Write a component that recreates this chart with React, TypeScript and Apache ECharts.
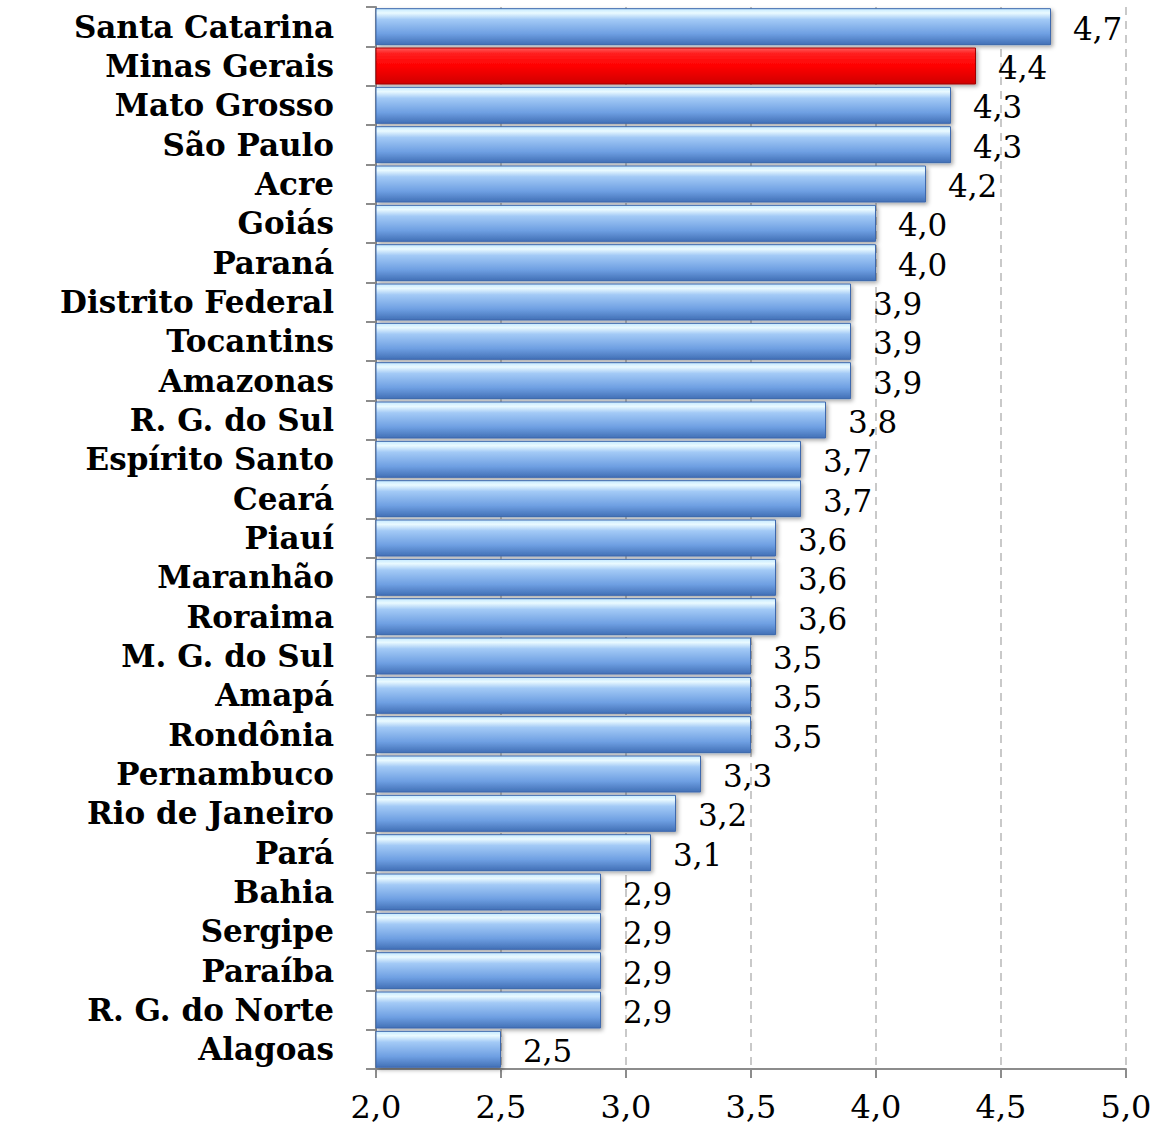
import React, { useEffect, useRef } from "react";
import * as echarts from "echarts";

const states = [
  "Santa Catarina", "Minas Gerais", "Mato Grosso", "São Paulo", "Acre", "Goiás", "Paraná",
  "Distrito Federal", "Tocantins", "Amazonas", "R. G. do Sul", "Espírito Santo", "Ceará",
  "Piauí", "Maranhão", "Roraima", "M. G. do Sul", "Amapá", "Rondônia", "Pernambuco",
  "Rio de Janeiro", "Pará", "Bahia", "Sergipe", "Paraíba", "R. G. do Norte", "Alagoas",
];
const values = [
  4.7, 4.4, 4.3, 4.3, 4.2, 4.0, 4.0, 3.9, 3.9, 3.9, 3.8, 3.7, 3.7, 3.6, 3.6, 3.6, 3.5, 3.5,
  3.5, 3.3, 3.2, 3.1, 2.9, 2.9, 2.9, 2.9, 2.5,
];
const highlighted = ["Minas Gerais"];

const fmt = (v: number) => v.toFixed(1).replace(".", ",");

export default function App() {
  const ref = useRef<HTMLDivElement>(null);
  useEffect(() => {
    if (!ref.current) return;
    const chart = echarts.init(ref.current, undefined, { renderer: "svg" });
    const blue = new echarts.graphic.LinearGradient(0, 0, 0, 1, [
      { offset: 0, color: "#c4e9ff" },
      { offset: 0.12, color: "#eafaff" },
      { offset: 0.3, color: "#a3caf6" },
      { offset: 0.7, color: "#6e9fe2" },
      { offset: 1, color: "#4270b6" },
    ]);
    const red = new echarts.graphic.LinearGradient(0, 0, 0, 1, [
      { offset: 0, color: "#ff5a5a" },
      { offset: 0.15, color: "#ff2020" },
      { offset: 0.5, color: "#ff0000" },
      { offset: 1, color: "#d00000" },
    ]);
    chart.setOption({
      animation: false,
      grid: { left: 376, right: 36, top: 7, bottom: 57, containLabel: false },
      xAxis: {
        type: "value",
        min: 2,
        max: 5,
        interval: 0.5,
        axisLine: { show: true, lineStyle: { color: "#8c8c8c", width: 2 } },
        axisTick: { show: true, length: 9, lineStyle: { color: "#8c8c8c", width: 2 } },
        splitLine: { show: true, lineStyle: { color: "#b8b8b8", type: [8, 6], width: 1.5 } },
        axisLabel: {
          margin: 22,
          color: "#000",
          fontFamily: "DejaVu Serif",
          fontSize: 32,
          formatter: (v: number) => fmt(v),
        },
      },
      yAxis: {
        type: "category",
        inverse: true,
        data: states,
        axisLine: { show: true, lineStyle: { color: "#8c8c8c", width: 2 } },
        axisTick: { show: true, length: 10, lineStyle: { color: "#8c8c8c", width: 2 } },
        axisLabel: {
          interval: 0,
          margin: 42,
          color: "#000",
          fontFamily: "DejaVu Serif",
          fontWeight: "bold",
          fontSize: 31,
          lineHeight: 34,
        },
      },
      series: [
        {
          type: "bar",
          barCategoryGap: "6%",
          data: values.map((v, i) => ({
            value: v,
            itemStyle: highlighted.includes(states[i])
              ? { color: red, borderColor: "#a00000", borderWidth: 1 }
              : { color: blue, borderColor: "#3c68ad", borderWidth: 1 },
          })),
          itemStyle: {
            shadowColor: "rgba(0,0,0,0.35)",
            shadowBlur: 4,
            shadowOffsetX: 2,
            shadowOffsetY: 2,
          },
          label: {
            show: true,
            position: "right",
            distance: 22,
            offset: [0, 2],
            color: "#000",
            fontFamily: "DejaVu Serif",
            fontSize: 31,
            formatter: (p: any) => fmt(p.value),
          },
        },
      ],
    });
    return () => chart.dispose();
  }, []);
  return (
    <div
      ref={ref}
      style={{ position: "absolute", left: 0, top: 0, width: 1162, height: 1126, background: "#fff" }}
    />
  );
}
